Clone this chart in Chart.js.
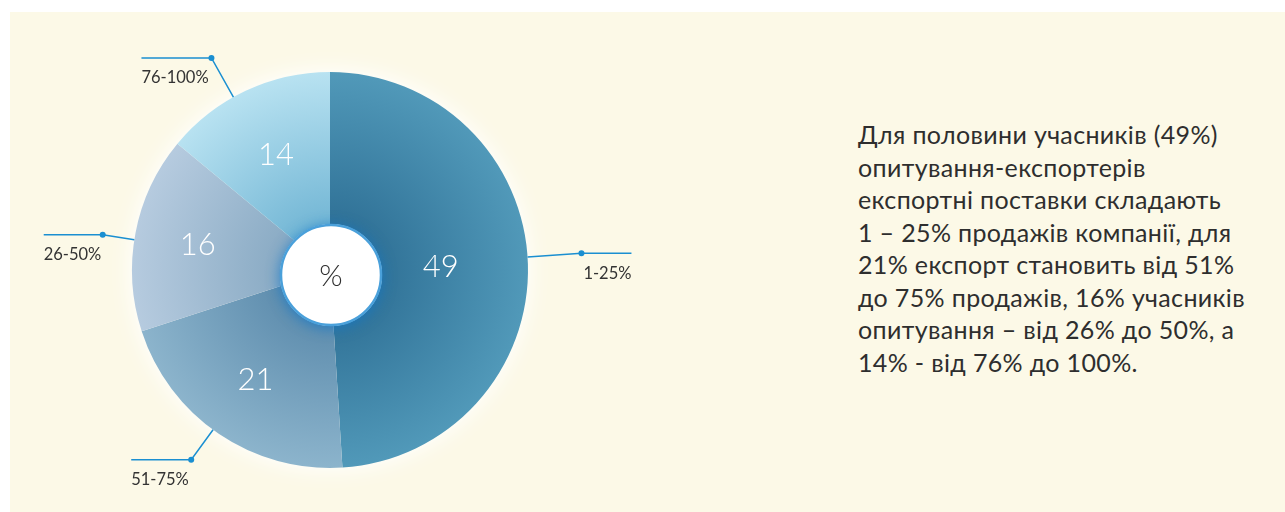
<!DOCTYPE html>
<html lang="uk">
<head>
<meta charset="utf-8">
<title>Частка експорту у продажах</title>
<script src="https://cdn.jsdelivr.net/npm/chart.js@4/dist/chart.umd.min.js"></script>
<style>
  html, body { margin: 0; padding: 0; background: #ffffff; }
  body { width: 1285px; height: 512px; position: relative; overflow: hidden; }
  #panel { position: absolute; left: 10px; top: 12px; width: 1275px; height: 500px; background: #fcf9e7; }
  #chartBox { position: absolute; left: 0; top: 0; width: 700px; height: 500px; }
  #note {
    position: absolute; left: 848px; top: 106px; width: 430px;
    font-family: Lato, "Noto Sans", sans-serif; font-size: 25px; line-height: 32.5px;
    letter-spacing: 0.35px; color: #2e2e2e;
  }
</style>
</head>
<body>
<div id="panel">
  <div id="chartBox"><canvas id="pieChart"></canvas></div>
  <div id="note">Для половини учасників (49%)<br>опитування-експортерів<br>експортні поставки складають<br>1 – 25% продажів компанії, для<br>21% експорт становить від 51%<br>до 75% продажів, 16% учасників<br>опитування – від 26% до 50%, а<br>14% - від 76% до 100%.</div>
</div>
<script>
// Data
const categories = ['1-25%', '51-75%', '26-50%', '76-100%'];
const shares = [49, 21, 16, 14];

// radial gradient colours per slice (inner, outer)
const innerColors = ['#2c6d93', '#5787a9', '#83a6c0', '#6cb2d2'];
const outerColors = ['#5199b9', '#8cb4cc', '#b6cbdf', '#b8e2f1'];

function sliceGradient(ctx) {
  const chart = ctx.chart;
  const area = chart.chartArea;
  if (!area) return innerColors[ctx.dataIndex];
  const x = (area.left + area.right) / 2;
  const y = (area.top + area.bottom) / 2;
  const r = Math.min(area.right - area.left, area.bottom - area.top) / 2;
  const g = chart.ctx.createRadialGradient(x, y, 30, x, y, r);
  g.addColorStop(0, innerColors[ctx.dataIndex]);
  g.addColorStop(1, outerColors[ctx.dataIndex]);
  return g;
}

// glow behind pie, white centre disc, values, leader lines
const pieDecor = {
  id: 'pieDecor',
  beforeDatasetsDraw(chart) {
    const arc = chart.getDatasetMeta(0).data[0];
    if (!arc) return;
    const c = chart.ctx;
    c.save();
    c.shadowColor = 'rgba(255,255,255,0.95)';
    c.shadowBlur = 22;
    c.fillStyle = '#fdfcf4';
    c.beginPath();
    c.arc(arc.x, arc.y, arc.outerRadius + 2, 0, Math.PI * 2);
    c.fill();
    c.restore();
  },
  afterDatasetsDraw(chart, args, opts) {
    const c = chart.ctx;
    const arcs = chart.getDatasetMeta(0).data;
    if (!arcs.length) return;
    const cx = arcs[0].x, cy = arcs[0].y, r = arcs[0].outerRadius;

    // values inside slices
    c.save();
    c.fillStyle = '#ffffff';
    c.font = '300 31px Lato, "Noto Sans", sans-serif';
    c.textAlign = 'center';
    c.textBaseline = 'middle';
    arcs.forEach((a, i) => {
      const mid = (a.startAngle + a.endAngle) / 2;
      const d = r * opts.labelRadius[i];
      c.fillText(String(shares[i]), cx + Math.cos(mid) * d, cy + Math.sin(mid) * d);
    });
    c.restore();

    // centre disc
    const dy = 5;
    c.save();
    c.shadowColor = 'rgba(20,120,200,0.8)';
    c.shadowBlur = 14;
    c.shadowOffsetY = 2;
    c.fillStyle = '#ffffff';
    c.beginPath();
    c.arc(cx + 1, cy + dy, 51, 0, Math.PI * 2);
    c.fill();
    c.restore();
    c.save();
    c.strokeStyle = '#4aa0da';
    c.lineWidth = 2.5;
    c.beginPath();
    c.arc(cx + 1, cy + dy, 50, 0, Math.PI * 2);
    c.stroke();
    c.fillStyle = '#2f2f2f';
    c.font = '300 30px Lato, "Noto Sans", sans-serif';
    c.textAlign = 'center';
    c.textBaseline = 'middle';
    c.fillText('%', cx + 1, cy + dy + 1);
    c.restore();

    // leader lines + category labels
    c.save();
    c.fillStyle = '#1a8fd1';
    c.lineWidth = 1.5;
    arcs.forEach((a, i) => {
      const ld = opts.leaders[i];
      const ang = (a.startAngle + a.endAngle) / 2 + ld.shift * Math.PI / 180;
      const x0 = cx + Math.cos(ang) * r, y0 = cy + Math.sin(ang) * r;
      const x1 = cx + Math.cos(ang) * (r + ld.ext), y1 = cy + Math.sin(ang) * (r + ld.ext);
      const right = Math.cos(ang) > 0;
      const x2 = x1 + (right ? ld.run : -ld.run);
      c.strokeStyle = '#1a8fd1';
      c.beginPath();
      c.moveTo(x0, y0);
      c.lineTo(x1, y1);
      c.lineTo(x2, y1);
      c.stroke();
      c.beginPath();
      c.arc(x1, y1, 3, 0, Math.PI * 2);
      c.fill();
      c.save();
      c.fillStyle = '#333333';
      c.font = '16.5px Lato, "Noto Sans", sans-serif';
      c.textAlign = right ? 'right' : 'left';
      c.textBaseline = 'middle';
      c.fillText(categories[i], x2, y1 + 20);
      c.restore();
    });
    c.restore();
  }
};

const config = {
  type: 'pie',
  data: {
    labels: categories,
    datasets: [{
      data: shares,
      backgroundColor: sliceGradient,
      borderWidth: 0
    }]
  },
  options: {
    responsive: true,
    maintainAspectRatio: false,
    animation: false,
    layout: { padding: { top: 60, bottom: 44, left: 122, right: 182 } },
    plugins: {
      legend: { display: false },
      tooltip: { enabled: false },
      pieDecor: {
        labelRadius: [0.56, 0.67, 0.68, 0.64],
        leaders: [
          { shift: -2, ext: 54, run: 50 },
          { shift: 2, ext: 37, run: 60 },
          { shift: -2, ext: 32, run: 59 },
          { shift: -4, ext: 45, run: 70 }
        ]
      }
    }
  },
  plugins: [pieDecor]
};

const pieChart = new Chart(document.getElementById('pieChart'), config);
</script>
</body>
</html>
